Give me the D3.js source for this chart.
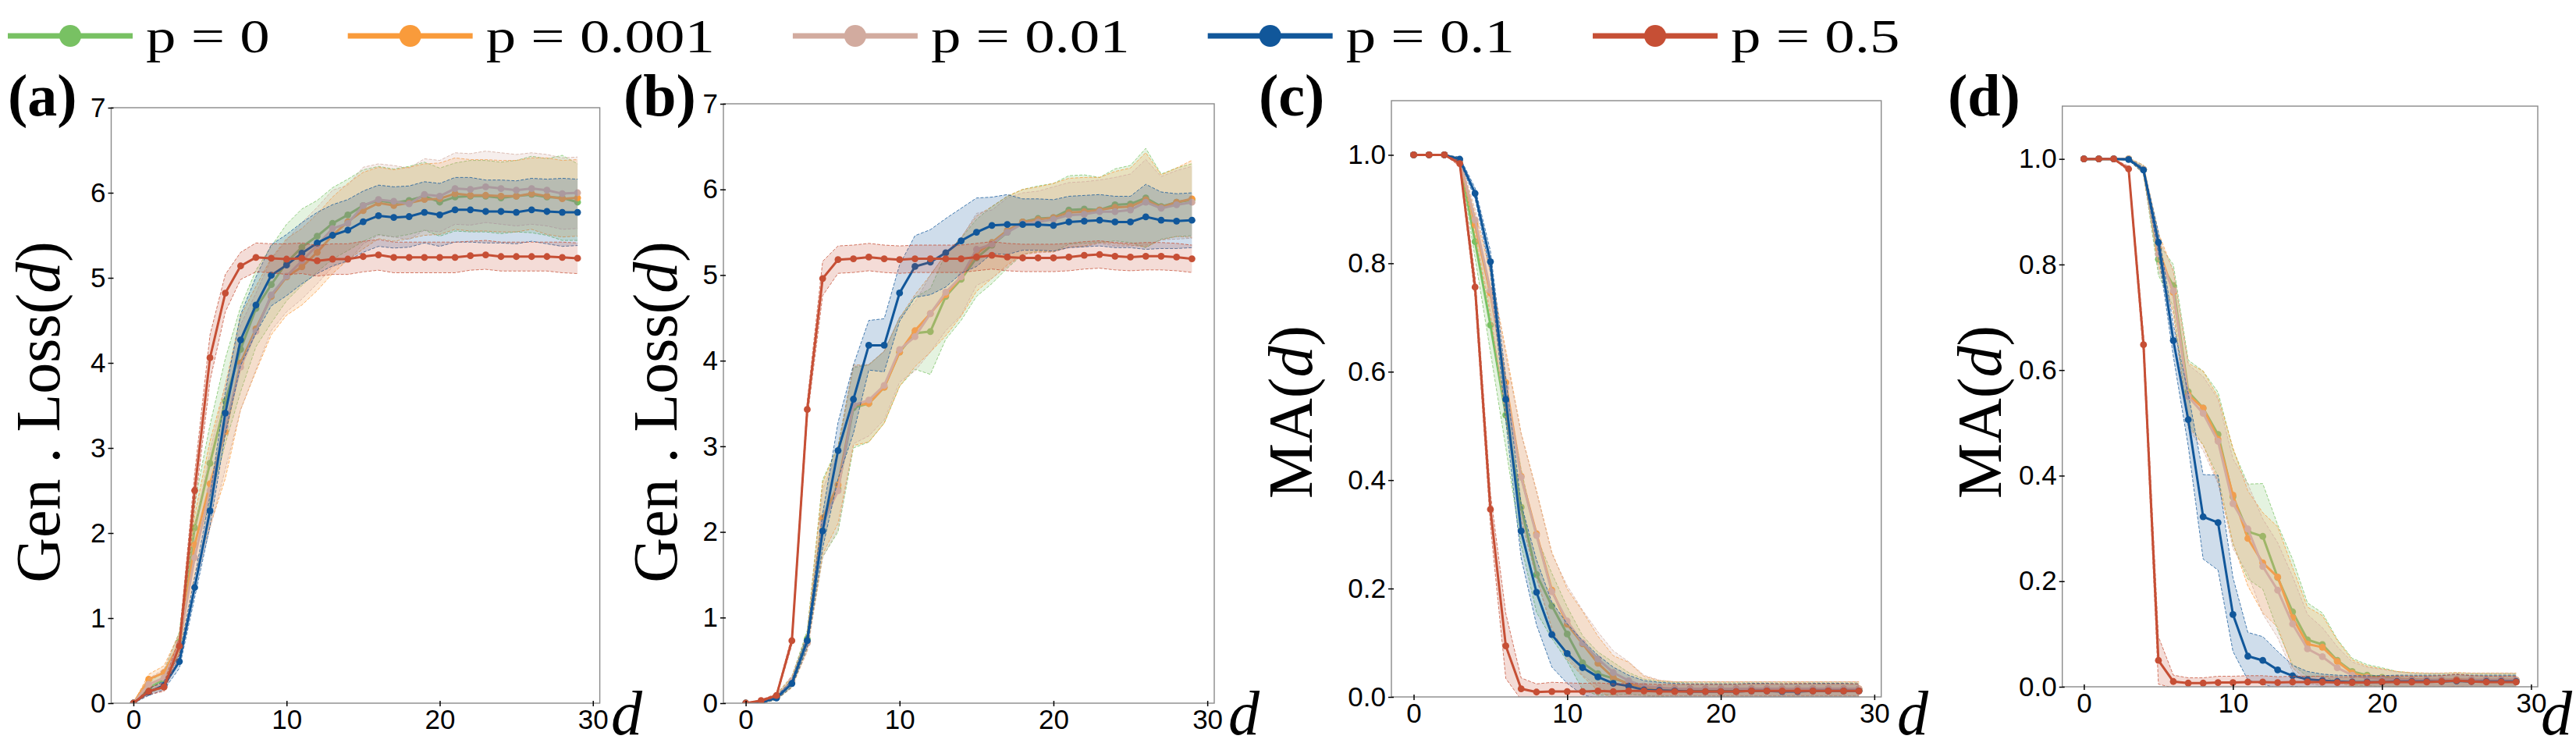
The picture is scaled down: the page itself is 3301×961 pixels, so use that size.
<!DOCTYPE html>
<html>
<head>
<meta charset="utf-8">
<script src="https://cdn.jsdelivr.net/npm/d3@7"></script>
<style>
  body { margin: 0; background: #fff; }
  .tick text { font-family: "Liberation Sans", Arial, sans-serif; font-size: 35px; fill: #000; }
  .tick line { stroke: #000; stroke-width: 1.5; }
  .serif { font-family: "Liberation Serif", "Times New Roman", serif; fill: #000; }
  .legend-text { font-family: "Liberation Serif", "Times New Roman", serif; font-size: 62px; fill: #000; }
</style>
</head>
<body>
<svg id="chart" width="3301" height="961"></svg>
<script>
// depth d on the x axis
var depths = [0, 1, 2, 3, 4, 5, 6, 7, 8, 9, 10, 11, 12, 13, 14, 15, 16, 17, 18, 19, 20, 21, 22, 23, 24, 25, 26, 27, 28, 29];
var xTicks = [0, 10, 20, 30];
var lossTicks = [0, 1, 2, 3, 4, 5, 6, 7];
var maTicks = [0, 0.2, 0.4, 0.6, 0.8, 1.0];

var seriesLabels = ['p = 0', 'p = 0.001', 'p = 0.01', 'p = 0.1', 'p = 0.5'];
var seriesColors = ['#78c163', '#f99b3b', '#d2ab9f', '#11579a', '#c64f35'];

// (a) Gen. Loss, means
var lossA_p0     = [0, 0.18, 0.28, 0.72, 2.06, 2.82, 3.55, 4.16, 4.64, 4.92, 5.18, 5.36, 5.49, 5.64, 5.74, 5.85, 5.91, 5.88, 5.91, 5.96, 5.89, 5.95, 5.96, 5.96, 5.94, 5.96, 5.98, 5.95, 5.94, 5.89];
var lossA_p0001  = [0, 0.28, 0.36, 0.70, 1.86, 2.58, 3.19, 4.00, 4.40, 4.78, 5.01, 5.13, 5.30, 5.50, 5.66, 5.79, 5.88, 5.85, 5.88, 5.92, 5.93, 5.99, 5.97, 5.97, 5.96, 5.96, 5.99, 5.96, 5.93, 5.94];
var lossA_p001   = [0, 0.22, 0.30, 0.70, 1.71, 2.50, 3.25, 3.95, 4.37, 4.80, 5.02, 5.20, 5.38, 5.58, 5.64, 5.85, 5.92, 5.90, 5.87, 5.98, 5.96, 6.05, 6.04, 6.07, 6.05, 6.03, 6.05, 6.03, 5.99, 6.00];
var lossA_p01    = [0, 0.13, 0.21, 0.49, 1.36, 2.26, 3.41, 4.27, 4.68, 5.03, 5.15, 5.29, 5.41, 5.50, 5.56, 5.66, 5.73, 5.71, 5.72, 5.77, 5.74, 5.80, 5.80, 5.78, 5.78, 5.77, 5.80, 5.78, 5.77, 5.77];
var lossA_p05    = [0, 0.14, 0.19, 0.67, 2.50, 4.06, 4.82, 5.14, 5.24, 5.23, 5.22, 5.23, 5.20, 5.22, 5.22, 5.25, 5.27, 5.24, 5.24, 5.24, 5.24, 5.24, 5.26, 5.27, 5.25, 5.25, 5.25, 5.25, 5.24, 5.23];
// (a) spread
var lossA_p0_sd    = [0, 0.06, 0.10, 0.12, 0.30, 0.45, 0.50, 0.50, 0.45, 0.45, 0.45, 0.45, 0.42, 0.42, 0.42, 0.42, 0.40, 0.40, 0.40, 0.40, 0.40, 0.40, 0.42, 0.42, 0.42, 0.42, 0.45, 0.45, 0.50, 0.45];
var lossA_p0001_sd = [0, 0.06, 0.08, 0.12, 0.35, 0.50, 0.55, 0.55, 0.50, 0.45, 0.45, 0.45, 0.45, 0.45, 0.45, 0.45, 0.42, 0.42, 0.42, 0.42, 0.42, 0.42, 0.42, 0.42, 0.42, 0.42, 0.42, 0.45, 0.45, 0.45];
var lossA_p001_sd  = [0, 0.07, 0.10, 0.12, 0.35, 0.45, 0.50, 0.50, 0.45, 0.42, 0.42, 0.45, 0.45, 0.45, 0.45, 0.45, 0.42, 0.42, 0.42, 0.42, 0.42, 0.42, 0.42, 0.42, 0.42, 0.42, 0.42, 0.42, 0.42, 0.42];
var lossA_p01_sd   = [0, 0.04, 0.05, 0.08, 0.12, 0.18, 0.25, 0.30, 0.33, 0.36, 0.36, 0.36, 0.36, 0.36, 0.36, 0.36, 0.36, 0.36, 0.36, 0.36, 0.37, 0.38, 0.38, 0.37, 0.37, 0.37, 0.37, 0.38, 0.40, 0.39];
var lossA_p05_sd   = [0, 0.04, 0.05, 0.10, 0.20, 0.27, 0.22, 0.16, 0.17, 0.17, 0.18, 0.18, 0.18, 0.18, 0.18, 0.18, 0.18, 0.18, 0.18, 0.18, 0.18, 0.18, 0.17, 0.17, 0.17, 0.17, 0.17, 0.17, 0.18, 0.18];

// (b) Gen. Loss, means
var lossB_p0     = [0, 0.01, 0.07, 0.25, 0.75, 2.16, 2.50, 3.45, 3.50, 3.69, 4.10, 4.32, 4.34, 4.75, 4.95, 5.20, 5.35, 5.50, 5.62, 5.66, 5.67, 5.76, 5.77, 5.76, 5.82, 5.83, 5.90, 5.80, 5.85, 5.88];
var lossB_p0001  = [0, 0.01, 0.07, 0.24, 0.72, 2.16, 2.55, 3.48, 3.50, 3.69, 4.10, 4.35, 4.55, 4.77, 4.98, 5.25, 5.38, 5.52, 5.62, 5.65, 5.67, 5.73, 5.74, 5.76, 5.79, 5.80, 5.88, 5.79, 5.85, 5.89];
var lossB_p001   = [0, 0.01, 0.08, 0.26, 0.70, 2.10, 2.48, 3.48, 3.54, 3.71, 4.13, 4.28, 4.55, 4.80, 4.98, 5.30, 5.36, 5.50, 5.60, 5.62, 5.65, 5.70, 5.71, 5.74, 5.74, 5.76, 5.85, 5.78, 5.82, 5.85];
var lossB_p01    = [0, 0.01, 0.06, 0.23, 0.73, 2.01, 2.95, 3.55, 4.18, 4.18, 4.79, 5.10, 5.15, 5.26, 5.40, 5.50, 5.58, 5.59, 5.59, 5.59, 5.58, 5.62, 5.63, 5.64, 5.62, 5.62, 5.68, 5.64, 5.63, 5.64];
var lossB_p05    = [0, 0.03, 0.09, 0.73, 3.43, 4.96, 5.18, 5.19, 5.21, 5.19, 5.18, 5.19, 5.19, 5.19, 5.19, 5.21, 5.23, 5.21, 5.20, 5.20, 5.20, 5.21, 5.23, 5.24, 5.22, 5.21, 5.22, 5.22, 5.21, 5.19];
// (b) spread
var lossB_p0_sd    = [0, 0.01, 0.03, 0.06, 0.10, 0.45, 0.50, 0.47, 0.45, 0.42, 0.40, 0.42, 0.50, 0.50, 0.48, 0.45, 0.45, 0.42, 0.38, 0.38, 0.40, 0.40, 0.40, 0.38, 0.42, 0.45, 0.58, 0.38, 0.40, 0.42];
var lossB_p0001_sd = [0, 0.01, 0.03, 0.06, 0.10, 0.42, 0.45, 0.47, 0.45, 0.42, 0.40, 0.42, 0.45, 0.48, 0.46, 0.44, 0.42, 0.40, 0.38, 0.38, 0.40, 0.40, 0.40, 0.38, 0.42, 0.45, 0.55, 0.38, 0.40, 0.45];
var lossB_p001_sd  = [0, 0.01, 0.03, 0.06, 0.10, 0.40, 0.45, 0.45, 0.42, 0.40, 0.38, 0.40, 0.45, 0.45, 0.45, 0.42, 0.40, 0.40, 0.36, 0.36, 0.38, 0.38, 0.38, 0.37, 0.40, 0.42, 0.50, 0.37, 0.40, 0.42];
var lossB_p01_sd   = [0, 0.01, 0.02, 0.04, 0.08, 0.20, 0.33, 0.40, 0.29, 0.31, 0.33, 0.36, 0.38, 0.40, 0.38, 0.40, 0.33, 0.35, 0.30, 0.30, 0.30, 0.30, 0.30, 0.30, 0.30, 0.30, 0.38, 0.33, 0.32, 0.32];
var lossB_p05_sd   = [0, 0.01, 0.02, 0.05, 0.10, 0.20, 0.16, 0.16, 0.16, 0.16, 0.16, 0.16, 0.16, 0.16, 0.16, 0.16, 0.16, 0.16, 0.16, 0.16, 0.16, 0.16, 0.16, 0.16, 0.16, 0.16, 0.16, 0.16, 0.16, 0.16];

// (c) MA, means
var maC_p0     = [1, 1, 1, 0.990, 0.840, 0.686, 0.520, 0.350, 0.226, 0.168, 0.116, 0.063, 0.043, 0.034, 0.025, 0.018, 0.015, 0.013, 0.012, 0.012, 0.012, 0.012, 0.012, 0.012, 0.012, 0.012, 0.012, 0.012, 0.012, 0.012];
var maC_p0001  = [1, 1, 1, 0.990, 0.871, 0.745, 0.580, 0.407, 0.301, 0.197, 0.134, 0.098, 0.062, 0.036, 0.024, 0.018, 0.016, 0.015, 0.015, 0.015, 0.015, 0.015, 0.015, 0.015, 0.015, 0.015, 0.015, 0.015, 0.015, 0.015];
var maC_p001   = [1, 1, 1, 0.990, 0.880, 0.750, 0.570, 0.405, 0.298, 0.194, 0.140, 0.100, 0.070, 0.045, 0.030, 0.020, 0.017, 0.015, 0.015, 0.015, 0.015, 0.015, 0.015, 0.015, 0.015, 0.015, 0.015, 0.015, 0.015, 0.015];
var maC_p01    = [1, 1, 1, 0.992, 0.929, 0.803, 0.549, 0.306, 0.193, 0.115, 0.080, 0.054, 0.037, 0.025, 0.020, 0.013, 0.012, 0.011, 0.010, 0.010, 0.010, 0.010, 0.011, 0.011, 0.010, 0.010, 0.011, 0.011, 0.011, 0.011];
var maC_p05    = [1, 1, 1, 0.984, 0.756, 0.346, 0.094, 0.015, 0.009, 0.010, 0.010, 0.010, 0.011, 0.010, 0.011, 0.011, 0.010, 0.010, 0.010, 0.010, 0.010, 0.010, 0.011, 0.011, 0.011, 0.011, 0.011, 0.011, 0.011, 0.011];
// (c) spread
var maC_p0_sd    = [0, 0, 0, 0.005, 0.030, 0.050, 0.060, 0.070, 0.070, 0.060, 0.050, 0.050, 0.040, 0.030, 0.020, 0.015, 0.014, 0.014, 0.014, 0.014, 0.014, 0.014, 0.014, 0.014, 0.014, 0.014, 0.014, 0.014, 0.014, 0.014];
var maC_p0001_sd = [0, 0, 0, 0.005, 0.020, 0.040, 0.060, 0.080, 0.080, 0.070, 0.065, 0.060, 0.050, 0.040, 0.040, 0.020, 0.014, 0.013, 0.013, 0.013, 0.013, 0.013, 0.013, 0.013, 0.013, 0.013, 0.013, 0.013, 0.013, 0.013];
var maC_p001_sd  = [0, 0, 0, 0.005, 0.020, 0.040, 0.060, 0.080, 0.080, 0.070, 0.065, 0.060, 0.050, 0.040, 0.035, 0.020, 0.014, 0.013, 0.013, 0.013, 0.013, 0.013, 0.013, 0.013, 0.013, 0.013, 0.013, 0.013, 0.013, 0.013];
var maC_p01_sd   = [0, 0, 0, 0.004, 0.010, 0.020, 0.040, 0.050, 0.060, 0.060, 0.055, 0.050, 0.040, 0.030, 0.020, 0.017, 0.015, 0.014, 0.014, 0.014, 0.014, 0.014, 0.014, 0.014, 0.014, 0.014, 0.014, 0.014, 0.014, 0.013];
var maC_p05_sd   = [0, 0, 0, 0.005, 0.020, 0.030, 0.060, 0.020, 0.015, 0.017, 0.016, 0.015, 0.015, 0.014, 0.014, 0.013, 0.013, 0.013, 0.013, 0.013, 0.013, 0.013, 0.013, 0.013, 0.013, 0.014, 0.013, 0.013, 0.013, 0.013];

// (d) MA, means
var maD_p0     = [1, 1, 1, 1, 0.980, 0.810, 0.760, 0.559, 0.528, 0.478, 0.360, 0.294, 0.285, 0.207, 0.142, 0.089, 0.080, 0.050, 0.029, 0.022, 0.018, 0.015, 0.013, 0.012, 0.012, 0.013, 0.012, 0.012, 0.012, 0.012];
var maD_p0001  = [1, 1, 1, 1, 0.980, 0.830, 0.747, 0.553, 0.528, 0.469, 0.363, 0.281, 0.235, 0.208, 0.131, 0.081, 0.075, 0.048, 0.026, 0.019, 0.016, 0.015, 0.014, 0.013, 0.013, 0.014, 0.013, 0.013, 0.013, 0.013];
var maD_p001   = [1, 1, 1, 1, 0.980, 0.820, 0.750, 0.550, 0.518, 0.465, 0.347, 0.299, 0.228, 0.183, 0.119, 0.072, 0.057, 0.036, 0.022, 0.017, 0.015, 0.014, 0.013, 0.013, 0.013, 0.013, 0.013, 0.013, 0.013, 0.013];
var maD_p01    = [1, 1, 1, 0.999, 0.979, 0.842, 0.656, 0.506, 0.322, 0.311, 0.137, 0.058, 0.050, 0.032, 0.021, 0.014, 0.012, 0.010, 0.009, 0.009, 0.009, 0.010, 0.010, 0.010, 0.010, 0.011, 0.010, 0.010, 0.010, 0.010];
var maD_p05    = [1, 1, 1, 0.981, 0.648, 0.050, 0.010, 0.007, 0.007, 0.008, 0.008, 0.009, 0.009, 0.008, 0.009, 0.009, 0.009, 0.008, 0.008, 0.008, 0.009, 0.009, 0.009, 0.009, 0.010, 0.012, 0.010, 0.009, 0.009, 0.009];
// (d) spread
var maD_p0_sd    = [0, 0, 0, 0.002, 0.008, 0.030, 0.040, 0.060, 0.070, 0.080, 0.090, 0.090, 0.100, 0.100, 0.100, 0.070, 0.060, 0.040, 0.025, 0.020, 0.018, 0.014, 0.013, 0.013, 0.013, 0.013, 0.013, 0.013, 0.013, 0.013];
var maD_p0001_sd = [0, 0, 0, 0.002, 0.008, 0.030, 0.040, 0.060, 0.070, 0.080, 0.090, 0.090, 0.095, 0.095, 0.095, 0.070, 0.060, 0.040, 0.025, 0.020, 0.018, 0.014, 0.013, 0.013, 0.013, 0.013, 0.013, 0.013, 0.013, 0.013];
var maD_p001_sd  = [0, 0, 0, 0.002, 0.008, 0.030, 0.040, 0.060, 0.070, 0.080, 0.085, 0.085, 0.090, 0.090, 0.090, 0.065, 0.055, 0.040, 0.025, 0.020, 0.018, 0.014, 0.013, 0.013, 0.013, 0.013, 0.013, 0.013, 0.013, 0.013];
var maD_p01_sd   = [0, 0, 0, 0.002, 0.005, 0.020, 0.030, 0.050, 0.080, 0.090, 0.070, 0.045, 0.045, 0.035, 0.020, 0.015, 0.012, 0.012, 0.012, 0.012, 0.012, 0.012, 0.012, 0.012, 0.012, 0.012, 0.012, 0.012, 0.012, 0.012];
var maD_p05_sd   = [0, 0, 0, 0.005, 0.020, 0.045, 0.012, 0.010, 0.010, 0.012, 0.012, 0.012, 0.012, 0.011, 0.011, 0.011, 0.011, 0.011, 0.011, 0.011, 0.011, 0.011, 0.011, 0.011, 0.011, 0.012, 0.011, 0.011, 0.011, 0.011];

// panel layout (frame edges in px) and which arrays go where
var panels = [
    { tag: '(a)', tagX: 10, left: 142.5, top: 138, right: 768.6, bottom: 901, ylim: [0, 7], yTicks: lossTicks, fmt: 'd',
      ylabel: 'Gen . Loss', ylabelX: 76, dX: 783,
      means: [lossA_p0, lossA_p0001, lossA_p001, lossA_p01, lossA_p05],
      sds: [lossA_p0_sd, lossA_p0001_sd, lossA_p001_sd, lossA_p01_sd, lossA_p05_sd] },
    { tag: '(b)', tagX: 799, left: 927, top: 133, right: 1556, bottom: 901, ylim: [0, 7], yTicks: lossTicks, fmt: 'd',
      ylabel: 'Gen . Loss', ylabelX: 867, dX: 1574,
      means: [lossB_p0, lossB_p0001, lossB_p001, lossB_p01, lossB_p05],
      sds: [lossB_p0_sd, lossB_p0001_sd, lossB_p001_sd, lossB_p01_sd, lossB_p05_sd] },
    { tag: '(c)', tagX: 1613, left: 1783, top: 129, right: 2410.7, bottom: 893, ylim: [0, 1.1], yTicks: maTicks, fmt: '.1f',
      ylabel: 'MA', ylabelX: 1681, dX: 2431,
      means: [maC_p0, maC_p0001, maC_p001, maC_p01, maC_p05],
      sds: [maC_p0_sd, maC_p0001_sd, maC_p001_sd, maC_p01_sd, maC_p05_sd] },
    { tag: '(d)', tagX: 2496, left: 2642.7, top: 136, right: 3252, bottom: 880, ylim: [0, 1.1], yTicks: maTicks, fmt: '.1f',
      ylabel: 'MA', ylabelX: 2564, dX: 3256,
      means: [maD_p0, maD_p0001, maD_p001, maD_p01, maD_p05],
      sds: [maD_p0_sd, maD_p0001_sd, maD_p001_sd, maD_p01_sd, maD_p05_sd] }
];

var svg = d3.select('#chart');
var defs = svg.append('defs');
var xDomain = [-1.45, 30.45];

panels.forEach(function(p, pi) {
    var x = d3.scaleLinear().domain(xDomain).range([p.left, p.right]);
    var y = d3.scaleLinear().domain(p.ylim).range([p.bottom, p.top]);

    defs.append('clipPath').attr('id', 'clip-' + pi)
        .append('rect')
        .attr('x', p.left).attr('y', p.top)
        .attr('width', p.right - p.left).attr('height', p.bottom - p.top);

    var g = svg.append('g').attr('class', 'panel');
    var plot = g.append('g').attr('clip-path', 'url(#clip-' + pi + ')');

    p.means.forEach(function(mean, k) {
        var sd = p.sds[k];
        var colour = seriesColors[k];
        var rows = depths.map(function(d, i) { return { d: d, m: mean[i], s: sd[i] }; });

        // spread band
        plot.append('path')
            .datum(rows)
            .attr('d', d3.area()
                .x(function(r) { return x(r.d); })
                .y0(function(r) { return y(r.m - r.s); })
                .y1(function(r) { return y(r.m + r.s); }))
            .style('fill', colour)
            .style('fill-opacity', 0.2);

        [-1, 1].forEach(function(sign) {
            plot.append('path')
                .datum(rows)
                .attr('d', d3.line()
                    .x(function(r) { return x(r.d); })
                    .y(function(r) { return y(r.m + sign * r.s); }))
                .style('fill', 'none')
                .style('stroke', colour)
                .style('stroke-width', 1)
                .style('stroke-opacity', 0.75)
                .style('stroke-dasharray', '4 2');
        });

        // mean line + markers
        plot.append('path')
            .datum(rows)
            .attr('d', d3.line()
                .x(function(r) { return x(r.d); })
                .y(function(r) { return y(r.m); }))
            .style('fill', 'none')
            .style('stroke', colour)
            .style('stroke-width', 3);

        plot.selectAll(null)
            .data(rows)
            .enter().append('circle')
            .attr('cx', function(r) { return x(r.d); })
            .attr('cy', function(r) { return y(r.m); })
            .attr('r', 4.4)
            .style('fill', colour);
    });

    // frame
    g.append('rect')
        .attr('x', p.left).attr('y', p.top)
        .attr('width', p.right - p.left).attr('height', p.bottom - p.top)
        .style('fill', 'none')
        .style('stroke', '#8a8a8a')
        .style('stroke-width', 1.4);

    // axes
    g.append('g')
        .attr('transform', 'translate(0,' + p.bottom + ')')
        .call(d3.axisBottom(x).tickValues(xTicks).tickSize(4).tickPadding(4).tickFormat(d3.format('d')))
        .call(function(a) { a.select('.domain').remove(); })
        .call(function(a) { a.selectAll('.tick line').attr('y1', -3).attr('y2', 4); });

    g.append('g')
        .attr('transform', 'translate(' + p.left + ',0)')
        .call(d3.axisLeft(y).tickValues(p.yTicks).tickSize(4).tickPadding(3).tickFormat(d3.format(p.fmt)))
        .call(function(a) { a.select('.domain').remove(); })
        .call(function(a) { a.selectAll('.tick line').attr('x1', -4).attr('x2', 3); });

    // y label
    var yl = g.append('text')
        .attr('class', 'serif')
        .attr('transform', 'translate(' + p.ylabelX + ',528) rotate(-90)')
        .attr('text-anchor', 'middle')
        .style('font-size', '80px');
    yl.append('tspan').text(p.ylabel + '(');
    yl.append('tspan').style('font-style', 'italic').text('d');
    yl.append('tspan').text(')');

    // x label
    g.append('text')
        .attr('class', 'serif')
        .attr('x', p.dX)
        .attr('y', 941)
        .style('font-size', '80px')
        .style('font-style', 'italic')
        .text('d');

    // panel tag
    g.append('text')
        .attr('class', 'serif')
        .attr('x', p.tagX)
        .attr('y', 148)
        .style('font-size', '76px')
        .style('font-weight', 'bold')
        .text(p.tag);
});

// legend across the top
var legend = svg.append('g').attr('class', 'legend');
var legendX = 10;
seriesLabels.forEach(function(label, k) {
    var item = legend.append('g').attr('transform', 'translate(' + legendX + ',46)');
    item.append('line')
        .attr('x1', 0).attr('x2', 160)
        .style('stroke', seriesColors[k])
        .style('stroke-width', 7);
    item.append('circle')
        .attr('cx', 80).attr('r', 14)
        .style('fill', seriesColors[k]);
    var t = item.append('text')
        .attr('class', 'legend-text')
        .attr('x', 177)
        .attr('y', 21)
        .text(label);
    // the legend glyphs in the figure run wider than plain Times
    var w = t.node().getComputedTextLength() * 1.24;
    t.attr('textLength', w).attr('lengthAdjust', 'spacingAndGlyphs');
    legendX += 177 + w + 100;
});
</script>
</body>
</html>
